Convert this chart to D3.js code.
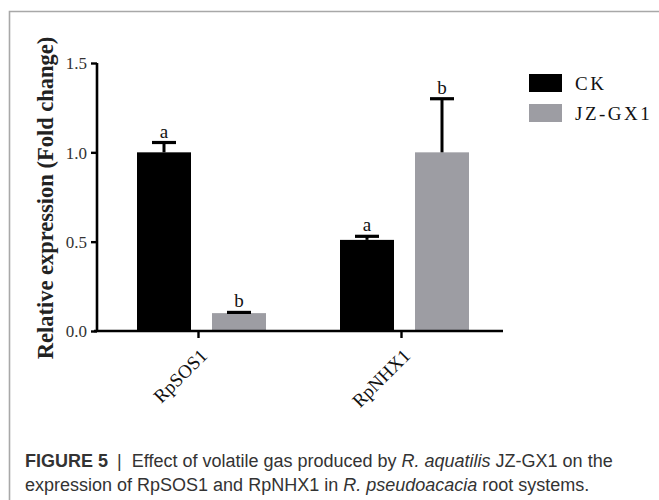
<!DOCTYPE html>
<html>
<head>
<meta charset="utf-8">
<script src="https://cdn.jsdelivr.net/npm/d3@7"></script>
<style>
  html, body { margin: 0; padding: 0; background: #fff; }
  svg { display: block; }
</style>
</head>
<body>
<div id="graph-wrapper"></div>
<script>
// data
const genes = ["RpSOS1", "RpNHX1"];
const groups = ["CK", "JZ-GX1"];
const ckMean = [1.0, 0.51];
const ckErr = [0.055, 0.02];
const gxMean = [0.1, 1.0];
const gxErr = [0.004, 0.3];
const ckLetters = ["a", "a"];
const gxLetters = ["b", "b"];
const yTicks = [0, 0.5, 1.0, 1.5];
const groupColors = ["#000000", "#9d9da3"];

function drawChart() {
  const width = 659;
  const height = 500;
  const marginLeft = 97;
  const axisRight = 503;
  const marginTop = 63;
  const axisBottom = 331;

  const rows = [];
  genes.forEach((g, i) => {
    rows.push({ gene: g, group: groups[0], mean: ckMean[i], err: ckErr[i], letter: ckLetters[i] });
    rows.push({ gene: g, group: groups[1], mean: gxMean[i], err: gxErr[i], letter: gxLetters[i] });
  });

  const svg = d3.select("#graph-wrapper").append("svg")
      .attr("width", width)
      .attr("height", height);

  // frame round the figure
  svg.append("path")
      .attr("d", `M9.5,${height + 5} V11.5 H${width + 5}`)
      .attr("fill", "none")
      .attr("stroke", "#a8a8a8")
      .attr("stroke-width", 1.6);

  const x0 = d3.scaleBand().domain(genes).range([marginLeft, axisRight]).padding(0);
  const x1 = d3.scaleBand().domain(groups).range([40, 169]).paddingInner(0.28);
  const y = d3.scaleLinear().domain([0, 1.5]).range([axisBottom, marginTop]);
  const color = d3.scaleOrdinal().domain(groups).range(groupColors);

  const serif = "'Liberation Serif', 'Times New Roman', serif";

  // bars
  svg.append("g").selectAll("rect")
    .data(rows)
    .join("rect")
      .attr("x", d => x0(d.gene) + x1(d.group))
      .attr("y", d => y(d.mean))
      .attr("width", x1.bandwidth())
      .attr("height", d => y(0) - y(d.mean))
      .attr("fill", d => color(d.group));

  // error bars (upper only)
  const eb = svg.append("g").selectAll("g")
    .data(rows)
    .join("g")
      .attr("transform", d => `translate(${x0(d.gene) + x1(d.group) + x1.bandwidth() / 2},0)`);
  eb.append("line")
      .attr("y1", d => y(d.mean))
      .attr("y2", d => y(d.mean + d.err))
      .attr("stroke", "#000")
      .attr("stroke-width", 3);
  eb.append("line")
      .attr("x1", -12).attr("x2", 12)
      .attr("y1", d => y(d.mean + d.err))
      .attr("y2", d => y(d.mean + d.err))
      .attr("stroke", "#000")
      .attr("stroke-width", 3.2);
  eb.append("text")
      .attr("y", d => y(d.mean + d.err) - 5)
      .attr("text-anchor", "middle")
      .style("font-family", serif)
      .style("font-size", "19px")
      .attr("fill", "#111")
      .text(d => d.letter);

  // y axis
  const yAxis = svg.append("g")
      .attr("transform", `translate(${marginLeft},0)`)
      .call(d3.axisLeft(y).tickValues(yTicks).tickFormat(d3.format(".1f")).tickSize(6).tickPadding(4));
  yAxis.select(".domain").attr("d", `M0,${marginTop}V${axisBottom}`).attr("stroke-width", 2.6);
  yAxis.selectAll(".tick line").attr("stroke-width", 2.4);
  yAxis.selectAll(".tick text")
      .style("font-family", serif)
      .style("font-size", "17px")
      .attr("fill", "#333")
      .attr("dy", "0.35em");

  // x axis
  const xAxis = svg.append("g")
      .attr("transform", `translate(0,${axisBottom})`)
      .call(d3.axisBottom(x0).tickSize(7).tickPadding(6));
  xAxis.select(".domain").attr("d", `M${marginLeft - 3},0H${axisRight}`).attr("stroke-width", 2.6);
  xAxis.selectAll(".tick line").attr("stroke-width", 2.4);
  xAxis.selectAll(".tick text")
      .style("font-family", serif)
      .style("font-size", "19px")
      .attr("fill", "#111")
      .attr("text-anchor", "end")
      .attr("transform", "translate(-6,10) rotate(-45)")
      .attr("dy", "0.5em");

  // y label
  svg.append("text")
      .attr("transform", `translate(53,${(marginTop + axisBottom) / 2 + 1}) rotate(-90)`)
      .attr("text-anchor", "middle")
      .style("font-family", serif)
      .style("font-size", "22.5px")
      .style("font-weight", "bold")
      .attr("fill", "#222")
      .text("Relative expression (Fold change)");

  // legend
  const legend = svg.append("g").attr("transform", "translate(529,74)");
  groups.forEach((g, i) => {
    legend.append("rect")
        .attr("y", i * 30)
        .attr("width", 33)
        .attr("height", 18)
        .attr("fill", color(g));
    legend.append("text")
        .attr("x", 46)
        .attr("y", i * 30 + 16)
        .style("font-family", serif)
        .style("font-size", "19px")
        .style("letter-spacing", "2.5px")
        .attr("fill", "#111")
        .text(g);
  });

  // caption
  const sans = "'Liberation Sans', Arial, Helvetica, sans-serif";
  const cap = svg.append("g")
      .style("font-family", sans)
      .style("font-size", "18px")
      .attr("fill", "#333");
  const l1 = cap.append("text").attr("x", 25).attr("y", 467);
  l1.append("tspan").style("font-weight", "bold").text("FIGURE 5");
  l1.append("tspan").attr("dx", 9).text("|");
  l1.append("tspan").attr("dx", 10).text("Effect of volatile gas produced by ");
  l1.append("tspan").style("font-style", "italic").text("R. aquatilis");
  l1.append("tspan").text(" JZ-GX1 on the");
  const l2 = cap.append("text").attr("x", 25).attr("y", 491);
  l2.append("tspan").text("expression of RpSOS1 and RpNHX1 in ");
  l2.append("tspan").style("font-style", "italic").text("R. pseudoacacia");
  l2.append("tspan").text(" root systems.");
}

if (document.readyState !== 'loading') {
  drawChart();
} else { document.addEventListener("DOMContentLoaded", () => drawChart()) }
</script>
</body>
</html>
